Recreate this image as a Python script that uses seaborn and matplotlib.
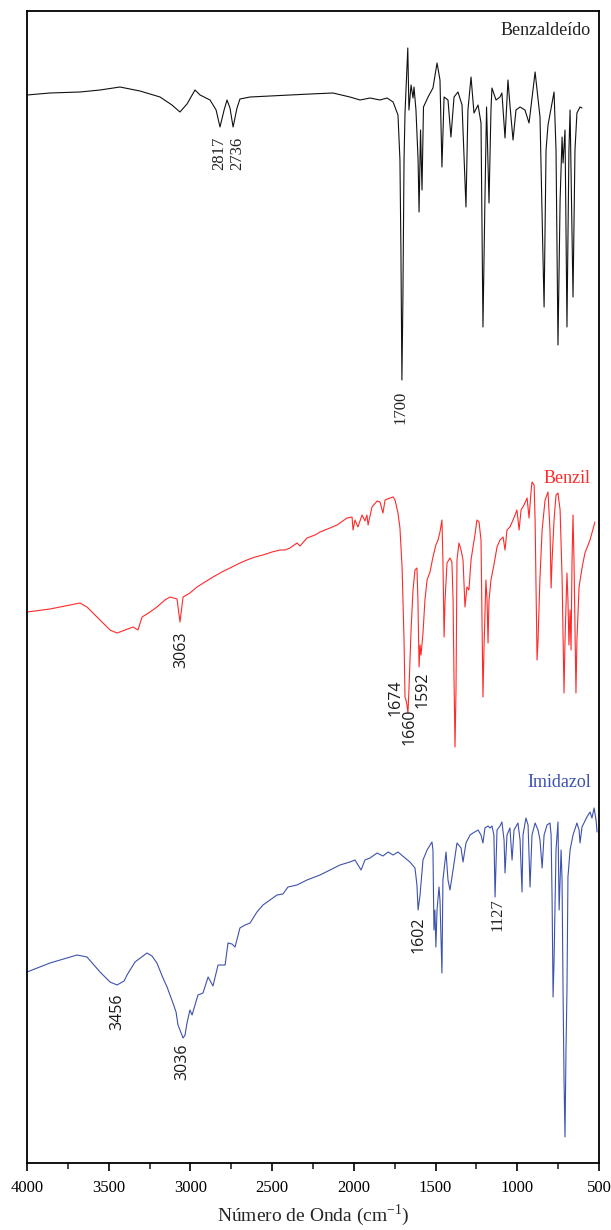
import numpy as np
import pandas as pd
import matplotlib
matplotlib.use("Agg")
import matplotlib.pyplot as plt
import seaborn as sns
from matplotlib.ticker import MultipleLocator

# ── 1. Spectra (wavenumber in cm-1, transmittance in a.u., stacked) ──
benzaldeido_wn = [4000, 3859, 3676, 3553, 3431, 3309, 3186, 3113, 3064, 3021, 2972, 2941, 2880, 2843,
                  2819, 2794, 2776, 2758, 2739, 2715, 2697, 2635, 2513, 2391, 2268, 2128, 2024, 1962,
                  1901, 1840, 1797, 1760, 1730, 1718, 1712, 1706, 1700, 1693, 1687, 1681, 1670, 1663,
                  1650, 1638, 1632, 1620, 1607, 1601, 1592, 1583, 1574, 1546, 1516, 1491, 1473, 1461,
                  1448, 1424, 1406, 1387, 1363, 1338, 1314, 1302, 1283, 1265, 1240, 1222, 1210, 1198,
                  1188, 1173, 1161, 1155, 1130, 1106, 1094, 1075, 1057, 1045, 1026, 1008, 983, 953,
                  928, 891, 861, 842, 836, 824, 812, 775, 763, 751, 738, 726, 720, 708, 696, 684,
                  677, 659, 647, 635, 616, 604]
benzaldeido_t = [106.8, 107.0, 107.1, 107.3, 107.6, 107.2, 106.6, 105.8, 105.1, 105.9, 107.3, 106.8,
                 106.3, 105.3, 103.6, 105.3, 106.3, 105.5, 103.6, 105.5, 106.4, 106.6, 106.7, 106.8,
                 106.9, 107.0, 106.6, 106.3, 106.5, 106.3, 106.5, 106.1, 104.8, 100.3, 91.3, 78.3,
                 86.3, 100.3, 105.0, 107.3, 111.5, 105.3, 107.8, 106.5, 107.6, 105.3, 100.3, 95.1,
                 103.3, 97.3, 105.6, 106.6, 107.5, 110.0, 108.3, 99.6, 106.6, 106.3, 102.6, 106.6,
                 107.1, 105.8, 95.6, 105.3, 108.6, 105.0, 105.8, 104.0, 83.6, 96.3, 105.6, 96.0,
                 105.3, 107.5, 106.3, 106.6, 107.0, 102.5, 108.3, 105.8, 102.3, 105.3, 105.6, 105.3,
                 104.0, 109.1, 104.6, 90.0, 85.6, 101.3, 103.8, 107.1, 101.3, 81.8, 96.3, 102.6,
                 100.0, 103.3, 83.6, 101.3, 105.3, 86.6, 101.3, 105.0, 105.6, 105.5]

benzil_wn = [4000, 3859, 3676, 3633, 3553, 3492, 3449, 3400, 3351, 3321, 3296, 3247, 3205, 3156,
             3125, 3082, 3064, 3045, 3003, 2960, 2911, 2862, 2807, 2758, 2697, 2654, 2605, 2556,
             2501, 2452, 2421, 2391, 2348, 2330, 2287, 2238, 2207, 2146, 2103, 2042, 2011, 2005,
             1993, 1975, 1950, 1932, 1920, 1913, 1889, 1858, 1840, 1822, 1809, 1779, 1760, 1748,
             1730, 1718, 1705, 1693, 1687, 1681, 1675, 1669, 1663, 1650, 1638, 1626, 1614, 1608,
             1601, 1595, 1589, 1577, 1565, 1552, 1534, 1516, 1498, 1485, 1473, 1461, 1455, 1448,
             1442, 1430, 1412, 1400, 1393, 1387, 1381, 1375, 1369, 1357, 1344, 1332, 1320, 1308,
             1296, 1283, 1271, 1259, 1247, 1234, 1222, 1216, 1210, 1204, 1192, 1185, 1179, 1173,
             1161, 1143, 1124, 1106, 1087, 1075, 1063, 1045, 1026, 1014, 1002, 989, 977, 959,
             940, 928, 916, 910, 897, 891, 879, 873, 861, 848, 830, 812, 800, 793, 787, 775,
             763, 751, 738, 726, 714, 708, 696, 690, 684, 677, 671, 665, 659, 653, 641, 635,
             622, 604, 586, 555, 525]
benzil_t = [55.1, 55.4, 56.0, 55.6, 54.3, 53.3, 53.0, 53.3, 53.6, 53.3, 54.6, 55.1, 55.6, 56.3,
            56.6, 56.4, 54.1, 56.6, 57.0, 57.6, 58.1, 58.6, 59.1, 59.5, 60.0, 60.3, 60.6, 60.8,
            61.1, 61.3, 61.3, 61.5, 62.0, 61.7, 62.5, 62.8, 63.1, 63.5, 63.8, 64.5, 64.6, 63.3,
            64.3, 63.6, 64.8, 64.2, 64.8, 63.8, 65.6, 66.2, 66.1, 65.0, 66.3, 66.5, 66.6, 66.3,
            65.0, 63.5, 59.6, 52.3, 46.6, 46.3, 45.8, 45.0, 47.3, 53.3, 57.3, 59.3, 59.5, 56.3,
            49.6, 51.8, 50.8, 53.0, 56.3, 58.3, 59.1, 60.6, 61.8, 62.3, 63.1, 64.3, 60.3, 52.6,
            56.3, 60.0, 60.5, 60.1, 56.3, 48.3, 41.6, 47.3, 60.3, 62.0, 61.3, 60.3, 55.6, 57.6,
            57.3, 60.3, 61.6, 62.8, 64.3, 64.1, 62.3, 54.3, 46.6, 51.3, 58.3, 56.3, 52.0, 56.3,
            58.3, 59.8, 61.6, 62.3, 62.6, 61.3, 63.3, 63.6, 64.3, 64.8, 65.3, 63.3, 65.3, 65.8,
            66.5, 64.5, 67.1, 68.1, 67.8, 64.3, 50.3, 52.3, 58.6, 63.3, 66.3, 67.1, 63.3, 57.5,
            60.3, 64.3, 66.8, 67.0, 65.3, 58.6, 47.0, 52.3, 59.0, 56.3, 51.8, 55.3, 51.3, 60.3,
            64.8, 60.3, 47.0, 52.3, 57.6, 59.5, 61.0, 62.3, 64.1]

imidazol_wn = [4000, 3859, 3694, 3633, 3553, 3492, 3449, 3406, 3388, 3339, 3266, 3235, 3205, 3168,
               3143, 3107, 3088, 3076, 3064, 3045, 3033, 3021, 3003, 2990, 2972, 2954, 2923, 2892,
               2862, 2831, 2788, 2770, 2746, 2727, 2697, 2666, 2635, 2593, 2556, 2513, 2470, 2434,
               2403, 2348, 2287, 2207, 2146, 2085, 2024, 1993, 1956, 1932, 1901, 1858, 1822, 1791,
               1760, 1730, 1687, 1657, 1626, 1614, 1607, 1595, 1577, 1552, 1522, 1516, 1510, 1504,
               1498, 1491, 1479, 1473, 1461, 1455, 1436, 1424, 1412, 1393, 1369, 1344, 1332, 1314,
               1289, 1271, 1240, 1222, 1210, 1198, 1179, 1167, 1155, 1143, 1136, 1124, 1106, 1094,
               1081, 1075, 1063, 1045, 1032, 1020, 996, 983, 971, 965, 947, 934, 922, 910, 891,
               873, 861, 848, 836, 818, 800, 793, 787, 781, 775, 763, 751, 744, 732, 726, 720,
               714, 708, 702, 696, 690, 677, 659, 635, 622, 616, 604, 574, 555, 543, 530, 518, 512]
imidazol_t = [19.1, 20.0, 20.8, 20.6, 19.1, 18.1, 17.8, 18.2, 18.8, 20.1, 21.0, 20.7, 20.0, 18.5,
              17.6, 16.0, 15.1, 13.8, 13.3, 12.5, 12.8, 14.0, 15.3, 14.8, 15.8, 16.8, 17.0, 18.6,
              17.7, 19.8, 19.8, 22.0, 21.9, 21.6, 23.5, 23.8, 24.0, 25.1, 25.8, 26.3, 26.8, 26.9,
              27.6, 27.8, 28.3, 28.8, 29.3, 29.8, 30.1, 30.3, 29.3, 30.3, 30.5, 31.0, 30.7, 31.1,
              30.8, 31.1, 30.5, 30.1, 29.5, 27.8, 25.3, 26.8, 30.3, 31.3, 32.1, 31.3, 23.3, 25.3,
              21.6, 25.3, 27.6, 26.3, 19.0, 28.3, 31.1, 28.3, 27.3, 29.3, 32.0, 31.5, 30.1, 32.0,
              32.8, 33.0, 33.3, 32.8, 32.0, 33.5, 33.7, 33.5, 33.7, 32.8, 26.6, 33.3, 33.7, 34.1,
              32.3, 29.0, 32.8, 33.5, 30.3, 33.3, 34.0, 32.3, 27.1, 32.8, 34.5, 33.8, 27.6, 32.8,
              34.0, 33.3, 32.3, 29.5, 32.8, 33.8, 34.0, 32.8, 26.3, 16.6, 20.3, 31.3, 34.1, 25.3,
              31.3, 28.3, 17.3, 8.3, 2.6, 11.3, 17.3, 28.6, 31.3, 32.8, 34.0, 33.3, 32.0, 33.6,
              34.6, 35.1, 34.5, 35.5, 34.3, 33.1]

names = ['Benzaldeído', 'Benzil', 'Imidazol']
colors = ['#111111', '#ff2a2a', '#3d52ad']

# peak annotations: text, wavenumber, height of label centre
peak_text = ['2817', '2736', '1700', '3063', '1674', '1660', '1592', '3456', '3036', '1602', '1127']
peak_x = [2825, 2715, 1712, 3058, 1742, 1657, 1577, 3449, 3052, 1607, 1124]
peak_y = [101.0, 101.0, 75.6, 51.3, 46.5, 43.6, 47.3, 15.1, 10.1, 22.8, 24.8]
peak_sans = [False, False, False, True, True, True, True, True, True, True, False]

df = pd.concat([
    pd.DataFrame({'wn': benzaldeido_wn, 't': benzaldeido_t, 'amostra': names[0]}),
    pd.DataFrame({'wn': benzil_wn, 't': benzil_t, 'amostra': names[1]}),
    pd.DataFrame({'wn': imidazol_wn, 't': imidazol_t, 'amostra': names[2]}),
])

# ── 2. Plot ──────────────────────────────────────────────
sns.set_style('white')
plt.rcParams['font.family'] = ['Liberation Serif', 'DejaVu Serif']
plt.rcParams['mathtext.fontset'] = 'custom'
plt.rcParams['mathtext.rm'] = 'Liberation Serif'

fig = plt.figure(figsize=(6.11, 12.30), dpi=100)
ax = fig.add_axes([27 / 611, 1 - 1163 / 1230, 572 / 611, 1152 / 1230])

sns.lineplot(data=df, x='wn', y='t', hue='amostra', palette=dict(zip(names, colors)),
             estimator=None, sort=False, linewidth=0.8, legend=False, ax=ax)

ax.set_xlim(4000, 500)
ax.set_ylim(0, 115.2)
ax.xaxis.set_major_locator(MultipleLocator(500))
ax.xaxis.set_minor_locator(MultipleLocator(250))
ax.tick_params(axis='x', which='major', direction='out', length=6, width=1.2,
               labelsize=12, pad=6, bottom=True, colors='black')
ax.tick_params(axis='x', which='minor', direction='out', length=4, width=1.2, bottom=True)
ax.set_yticks([])
ax.set_ylabel('')
ax.set_xlabel(r'Número de Onda (cm$^{\mathregular{-1}}$)', fontsize=14, labelpad=5)
for s in ax.spines.values():
    s.set_visible(True)
    s.set_linewidth(1.3)
    s.set_color('black')

# sample names
name_y = [0.9835, 0.5946, 0.3299]
for n, c, yy in zip(names, colors, name_y):
    ax.text(0.986, yy, n, color='#222222' if n == names[0] else c, fontsize=13,
            ha='right', va='center', transform=ax.transAxes)

# peak labels
for txt, px, py, sans in zip(peak_text, peak_x, peak_y, peak_sans):
    if sans:
        ax.text(px, py, txt, rotation=90, ha='center', va='center', fontsize=11.5,
                family=['Open Sans', 'DejaVu Sans'], color='#1a1a1a')
    else:
        ax.text(px, py, txt, rotation=90, ha='center', va='center', fontsize=12,
                color='#222222')

plt.savefig('out.png', dpi=100)
plt.close()
